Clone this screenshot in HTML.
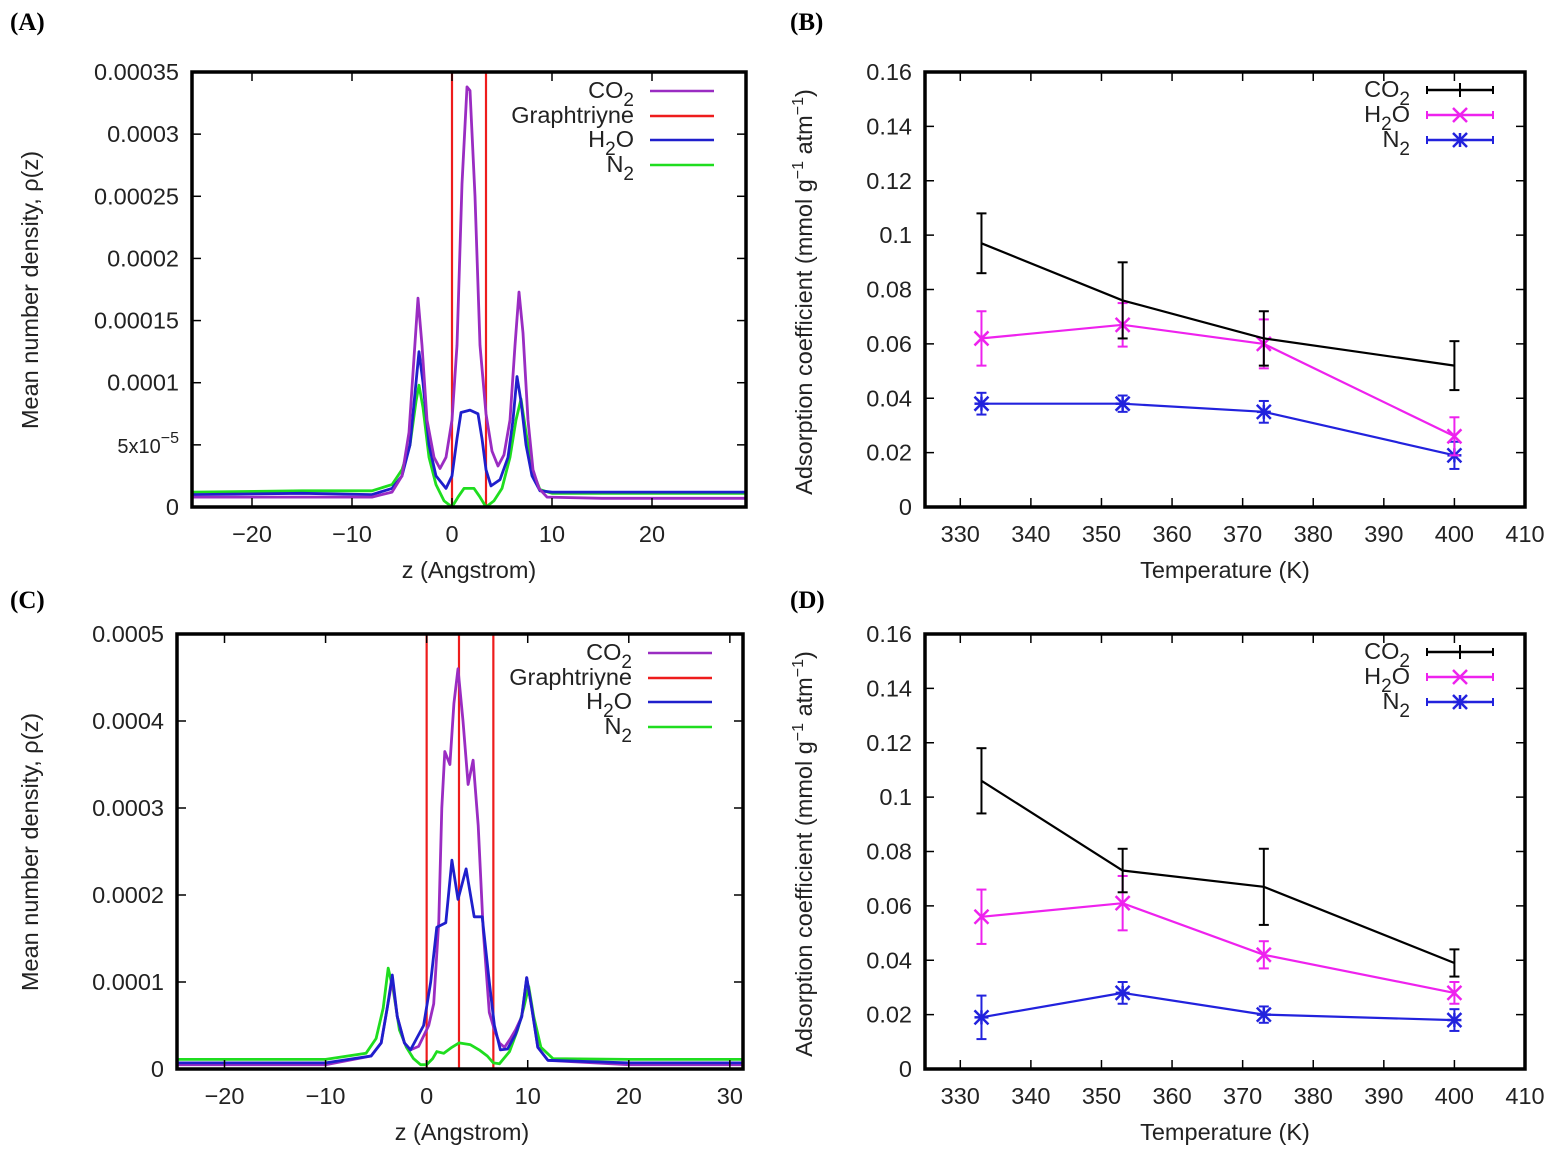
<!DOCTYPE html>
<html><head><meta charset="utf-8"><style>
body{margin:0;background:#fff;}
svg{display:block;font-family:"Liberation Sans",Arial,sans-serif;}
.pl{font-family:"Liberation Serif",serif;font-weight:bold;font-size:25px;}
</style></head><body>
<svg id="fig" width="1555" height="1156" viewBox="0 0 1555 1156" xmlns="http://www.w3.org/2000/svg">
<text class="pl" x="10" y="30">(A)</text>
<text class="pl" x="790" y="30">(B)</text>
<text class="pl" x="10" y="608">(C)</text>
<text class="pl" x="790" y="608">(D)</text>
</svg>
<script>
// ---- Panel A data ----
const aCO2z=[-26,-15,-8,-6,-5,-4.3,-3.8,-3.4,-3.0,-2.5,-1.8,-1.2,-0.6,0,0.5,1.0,1.5,1.8,2.3,2.8,3.4,4.0,4.6,5.2,5.8,6.3,6.7,7.1,7.6,8.1,8.7,9.5,15,29.4];
const aCO2v=[0.8e-5,0.8e-5,0.8e-5,1.2e-5,2.5e-5,6e-5,1.2e-4,1.68e-4,1.3e-4,7e-5,4e-5,3.1e-5,4e-5,7e-5,1.3e-4,2.6e-4,3.38e-4,3.35e-4,2.5e-4,1.3e-4,7.5e-5,4.5e-5,3.3e-5,4.2e-5,7e-5,1.3e-4,1.73e-4,1.4e-4,7e-5,3e-5,1.5e-5,0.8e-5,0.7e-5,0.7e-5];
const aH2Oz=[-26,-15,-8,-6,-5,-4.2,-3.6,-3.3,-2.9,-2.3,-1.6,-0.6,0,0.5,0.9,1.8,2.6,3.0,3.4,3.9,4.8,5.6,6.1,6.5,6.9,7.4,8.0,8.8,10,20,29.4];
const aH2Ov=[1.0e-5,1.1e-5,1.0e-5,1.5e-5,2.5e-5,5e-5,1.0e-4,1.25e-4,1.0e-4,5e-5,2.5e-5,1.5e-5,2.5e-5,5.5e-5,7.6e-5,7.8e-5,7.5e-5,5.5e-5,3e-5,1.7e-5,2.2e-5,4e-5,7e-5,1.05e-4,8.5e-5,5e-5,2.5e-5,1.3e-5,1.2e-5,1.2e-5,1.2e-5];
const aN2z=[-26,-15,-8,-6,-5,-4.2,-3.6,-3.3,-2.9,-2.3,-1.6,-0.8,0,0.6,1.2,2.2,2.8,3.4,4.2,5.0,5.8,6.4,6.9,7.4,8.0,8.8,10,20,29.4];
const aN2v=[1.2e-5,1.3e-5,1.3e-5,1.8e-5,3e-5,5e-5,8.5e-5,9.8e-5,8e-5,4e-5,1.8e-5,5e-6,0,8e-6,1.5e-5,1.5e-5,8e-6,0,5e-6,1.5e-5,4e-5,7e-5,8.7e-5,6e-5,3e-5,1.4e-5,1.1e-5,1.1e-5,1.1e-5];
const aWalls=[0,3.4];
// ---- Panel C data ----
const cCO2z=[-24.7,-10,-5.5,-4.5,-3.9,-3.4,-2.9,-2.2,-1.6,-0.8,0.2,0.7,1.2,1.5,1.8,2.3,2.7,3.1,3.6,4.1,4.6,5.1,5.6,6.2,6.7,7.2,7.7,8.3,8.8,9.4,9.9,10.4,11,12,20,31.3];
const cCO2v=[0.5e-5,0.5e-5,1.5e-5,3e-5,7e-5,1.03e-4,6e-5,3e-5,2.2e-5,2.6e-5,5e-5,7.5e-5,1.7e-4,3e-4,3.65e-4,3.5e-4,4.2e-4,4.6e-4,4.0e-4,3.27e-4,3.55e-4,2.8e-4,1.6e-4,6.5e-5,4.5e-5,3e-5,2.5e-5,3.5e-5,4.5e-5,6e-5,1.05e-4,7e-5,2.5e-5,1.0e-5,0.5e-5,0.5e-5];
const cH2Oz=[-24.7,-10,-5.5,-4.5,-3.9,-3.4,-2.9,-2.2,-1.6,-0.3,0.4,1.0,1.9,2.5,3.1,3.9,4.7,5.5,6.2,6.7,7.3,8.0,8.8,9.4,9.9,10.4,11,12,20,31.3];
const cH2Ov=[0.7e-5,0.7e-5,1.5e-5,3e-5,7e-5,1.08e-4,6e-5,3e-5,2.2e-5,5e-5,1.0e-4,1.63e-4,1.68e-4,2.4e-4,1.95e-4,2.3e-4,1.75e-4,1.75e-4,1.0e-4,5e-5,2.2e-5,2.3e-5,4e-5,6e-5,1.05e-4,7e-5,2.5e-5,1.0e-5,0.7e-5,0.7e-5];
const cN2z=[-24.7,-10,-6,-5,-4.3,-3.8,-3.3,-2.7,-2.0,-1.3,-0.6,0,0.6,1.0,1.7,2.5,3.2,4.3,5.2,6.0,6.6,7.2,8.2,9.0,9.6,10.1,10.6,11.3,12.5,20,31.3];
const cN2v=[1.1e-5,1.1e-5,1.8e-5,3.5e-5,7e-5,1.16e-4,9e-5,4.5e-5,2.5e-5,1.2e-5,5e-6,5e-6,1.2e-5,2e-5,1.8e-5,2.5e-5,3e-5,2.8e-5,2.2e-5,1.5e-5,7e-6,6e-6,2e-5,4.5e-5,7e-5,9.5e-5,6e-5,2.5e-5,1.2e-5,1.1e-5,1.1e-5];
const cWalls=[0,3.2,6.6];
// ---- Panels B & D data ----
const temps=[333,353,373,400];
const bCO2=[0.097,0.076,0.062,0.052]; const bCO2e=[0.011,0.014,0.010,0.009];
const bH2O=[0.062,0.067,0.060,0.026]; const bH2Oe=[0.010,0.008,0.009,0.007];
const bN2=[0.038,0.038,0.035,0.019];  const bN2e=[0.004,0.003,0.004,0.005];
const dCO2=[0.106,0.073,0.067,0.039]; const dCO2e=[0.012,0.008,0.014,0.005];
const dH2O=[0.056,0.061,0.042,0.028]; const dH2Oe=[0.010,0.010,0.005,0.004];
const dN2=[0.019,0.028,0.020,0.018];  const dN2e=[0.008,0.004,0.003,0.004];
const yTicksA=[0,0.00005,0.0001,0.00015,0.0002,0.00025,0.0003,0.00035];
const yTickLabA=["0","5x10","0.0001","0.00015","0.0002","0.00025","0.0003","0.00035"];
const yTicksC=[0,0.0001,0.0002,0.0003,0.0004,0.0005];
const yTickLabC=["0","0.0001","0.0002","0.0003","0.0004","0.0005"];
const xTicksZ=[-20,-10,0,10,20];
const xTicksZC=[-20,-10,0,10,20,30];
const xTicksT=[330,340,350,360,370,380,390,400,410];
const yTicksAds=[0,0.02,0.04,0.06,0.08,0.1,0.12,0.14,0.16];

const FS=23.5;
const NS="http://www.w3.org/2000/svg";
const fig=document.getElementById('fig');
function mk(tag,attrs,parent){const e=document.createElementNS(NS,tag);for(const k in attrs)e.setAttribute(k,attrs[k]);(parent||fig).appendChild(e);return e;}

function panel(id,box,xr,yr){
  const g=mk('g',{});
  
  
  const sx=v=>box[0]+(v-xr[0])/(xr[1]-xr[0])*(box[2]-box[0]);
  const sy=v=>box[3]-(v-yr[0])/(yr[1]-yr[0])*(box[3]-box[1]);
  return {g,sx,sy,box};
}
function axes(P,xt,xlab,yt,ylab){
  const b=P.box;
  for(let i=0;i<xt.length;i++){
    const x=P.sx(xt[i]);
    const t=mk('line',{x1:x,x2:x,y1:b[3],y2:b[3]-9,stroke:'#000','stroke-width':1.5},P.g);
    
    
    mk('line',{x1:x,x2:x,y1:b[1],y2:b[1]+9,stroke:'#000','stroke-width':1.5},P.g);
    const tx=mk('text',{x:x,y:b[3]+35,'text-anchor':'middle','font-size':FS,fill:'#222'},P.g);
    tx.textContent=(xlab[i]<0?'\u2212'+Math.abs(xlab[i]):xlab[i]);
    
    
  }
  for(let i=0;i<yt.length;i++){
    const y=P.sy(yt[i]);
    const t=mk('line',{x1:b[0],x2:b[0]+9,y1:y,y2:y,stroke:'#000','stroke-width':1.5},P.g);
    
    
    mk('line',{x1:b[2],x2:b[2]-9,y1:y,y2:y,stroke:'#000','stroke-width':1.5},P.g);
    const tx=mk('text',{x:b[0]-13,y:y+8,'text-anchor':'end','font-size':FS,fill:'#222'},P.g);
    
    
    if(ylab[i]==='5x10'){tx.setAttribute('font-size',20);tx.textContent='5x10';const s=mk('tspan',{dy:-10,'font-size':16},tx);s.textContent='\u22125';}
    else tx.textContent=ylab[i];
  }
}
function frame(P){
  const b=P.box;
  const r=mk('rect',{x:b[0],y:b[1],width:b[2]-b[0],height:b[3]-b[1],fill:'none',stroke:'#000','stroke-width':3.5},P.g);
  
  
}
function curve(P,zs,vs,color,name){
  let d='';
  for(let i=0;i<zs.length;i++)d+=(i?'L':'M')+P.sx(zs[i]).toFixed(1)+','+P.sy(vs[i]).toFixed(1);
  const p=mk('path',{d:d,fill:'none',stroke:color,'stroke-width':2.8,'stroke-linejoin':'round'},P.g);
  
  
}
function walls(P,ws,name){
  for(const w of ws){
    const l=mk('line',{x1:P.sx(w),x2:P.sx(w),y1:P.box[1],y2:P.box[3],stroke:'#ee1c1c','stroke-width':2.2},P.g);
    
    
  }
}
function legendEntry(P,xr,y,label,sub,rest,color,x1,x2,name,marker){
  const t=mk('text',{x:xr,y:y+7,'text-anchor':'end','font-size':FS,fill:'#222'},P.g);
  
  
  t.textContent=label;
  if(sub){const s=mk('tspan',{dy:8,'font-size':19},t);s.textContent=sub;}
  if(rest){const s=mk('tspan',{dy:-8},t);s.textContent=rest;}
  const l=mk('line',{x1:x1,x2:x2,y1:y,y2:y,stroke:color,'stroke-width':2.6},P.g);
  
  
  if(marker){
    mk('line',{x1:x1,x2:x1,y1:y-4,y2:y+4,stroke:color,'stroke-width':2},P.g);
    mk('line',{x1:x2,x2:x2,y1:y-4,y2:y+4,stroke:color,'stroke-width':2},P.g);
    drawMarker(P.g,(x1+x2)/2,y,marker,color);
  }
}
function drawMarker(g,x,y,m,c){
  const s=7;
  if(m==='+'){mk('line',{x1:x,x2:x,y1:y-s,y2:y+s,stroke:c,'stroke-width':2},g);}
  if(m==='x'||m==='*'){
    mk('line',{x1:x-s,x2:x+s,y1:y-s,y2:y+s,stroke:c,'stroke-width':2.5},g);
    mk('line',{x1:x-s,x2:x+s,y1:y+s,y2:y-s,stroke:c,'stroke-width':2.5},g);
  }
  if(m==='*'){
    mk('line',{x1:x,x2:x,y1:y-s,y2:y+s,stroke:c,'stroke-width':2.5},g);
    mk('line',{x1:x-s,x2:x+s,y1:y,y2:y,stroke:c,'stroke-width':2.5},g);
  }
}
function series(P,xs,ys,es,color,marker,name){
  let d='';
  for(let i=0;i<xs.length;i++)d+=(i?'L':'M')+P.sx(xs[i]).toFixed(1)+','+P.sy(ys[i]).toFixed(1);
  const p=mk('path',{d:d,fill:'none',stroke:color,'stroke-width':2.2},P.g);
  
  
  for(let i=0;i<xs.length;i++){
    const x=P.sx(xs[i]),y=P.sy(ys[i]),y1=P.sy(ys[i]-es[i]),y2=P.sy(ys[i]+es[i]);
    const g=mk('g',{},P.g);
    
    
    mk('line',{x1:x,x2:x,y1:y1,y2:y2,stroke:color,'stroke-width':2},g);
    mk('line',{x1:x-5,x2:x+5,y1:y1,y2:y1,stroke:color,'stroke-width':2},g);
    mk('line',{x1:x-5,x2:x+5,y1:y2,y2:y2,stroke:color,'stroke-width':2},g);
    if(marker!=='+')drawMarker(g,x,y,marker,color);
  }
}
function title(P,x,y,txt,rot,name){
  const t=mk('text',{x:x,y:y,'text-anchor':'middle','font-size':FS,fill:'#222'},P.g);
  if(rot)t.setAttribute('transform','rotate(-90 '+x+' '+y+')');
  
  
  return t;
}
function adsTitle(P,x,y){
  const t=title(P,x,y,'',true,'y-axis-title');
  t.textContent='Adsorption coefficient (mmol g';
  let s=mk('tspan',{dy:-9,'font-size':16},t);s.textContent='\u22121';
  s=mk('tspan',{dy:9},t);s.textContent=' atm';
  s=mk('tspan',{dy:-9,'font-size':16},t);s.textContent='\u22121';
  s=mk('tspan',{dy:9},t);s.textContent=')';
}

// Panel A
let A=panel('panel-a-density',[192,72,746,507],[-26,29.4],[0,0.00035]);
walls(A,aWalls,'graphtriyne-wall');
curve(A,aN2z,aN2v,'#1fdd1f','n2-curve');
curve(A,aH2Oz,aH2Ov,'#1f1fcc','h2o-curve');
curve(A,aCO2z,aCO2v,'#9a2cc2','co2-curve');
axes(A,xTicksZ,xTicksZ,yTicksA,yTickLabA);
frame(A);
legendEntry(A,634,91,'CO','2','','#9a2cc2',650,714,'legend-co2');
legendEntry(A,634,116,'Graphtriyne','','','#ee1c1c',650,714,'legend-graphtriyne');
legendEntry(A,634,140,'H','2','O','#1f1fcc',650,714,'legend-h2o');
legendEntry(A,634,165,'N','2','','#1fdd1f',650,714,'legend-n2');
title(A,469,578,'',false,'x-axis-title').textContent='z (Angstrom)';
title(A,38,290,'',true,'y-axis-title').textContent='Mean number density, \u03c1(z)';

// Panel C
let C=panel('panel-c-density',[177,634,743,1069],[-24.7,31.3],[0,0.0005]);
walls(C,cWalls,'graphtriyne-wall');
curve(C,cN2z,cN2v,'#1fdd1f','n2-curve');
curve(C,cCO2z,cCO2v,'#9a2cc2','co2-curve');
curve(C,cH2Oz,cH2Ov,'#1f1fcc','h2o-curve');
axes(C,xTicksZC,xTicksZC,yTicksC,yTickLabC);
frame(C);
legendEntry(C,632,653,'CO','2','','#9a2cc2',648,712,'legend-co2');
legendEntry(C,632,678,'Graphtriyne','','','#ee1c1c',648,712,'legend-graphtriyne');
legendEntry(C,632,702,'H','2','O','#1f1fcc',648,712,'legend-h2o');
legendEntry(C,632,727,'N','2','','#1fdd1f',648,712,'legend-n2');
title(C,462,1140,'',false,'x-axis-title').textContent='z (Angstrom)';
title(C,38,852,'',true,'y-axis-title').textContent='Mean number density, \u03c1(z)';

// Panel B
let B=panel('panel-b-adsorption',[925,72,1525,507],[325,410],[0,0.16]);
series(B,temps,bN2,bN2e,'#2222dd','*','n2-series');
series(B,temps,bH2O,bH2Oe,'#ee22ee','x','h2o-series');
series(B,temps,bCO2,bCO2e,'#000','+','co2-series');
axes(B,xTicksT,xTicksT,yTicksAds,yTicksAds);
frame(B);
legendEntry(B,1410,90,'CO','2','','#000',1427,1493,'legend-co2','+');
legendEntry(B,1410,115,'H','2','O','#ee22ee',1427,1493,'legend-h2o','x');
legendEntry(B,1410,140,'N','2','','#2222dd',1427,1493,'legend-n2','*');
title(B,1225,578,'',false,'x-axis-title').textContent='Temperature (K)';
adsTitle(B,812,292);

// Panel D
let D=panel('panel-d-adsorption',[925,634,1525,1069],[325,410],[0,0.16]);
series(D,temps,dN2,dN2e,'#2222dd','*','n2-series');
series(D,temps,dH2O,dH2Oe,'#ee22ee','x','h2o-series');
series(D,temps,dCO2,dCO2e,'#000','+','co2-series');
axes(D,xTicksT,xTicksT,yTicksAds,yTicksAds);
frame(D);
legendEntry(D,1410,652,'CO','2','','#000',1427,1493,'legend-co2','+');
legendEntry(D,1410,677,'H','2','O','#ee22ee',1427,1493,'legend-h2o','x');
legendEntry(D,1410,702,'N','2','','#2222dd',1427,1493,'legend-n2','*');
title(D,1225,1140,'',false,'x-axis-title').textContent='Temperature (K)';
adsTitle(D,812,854);
</script>
</body></html>
